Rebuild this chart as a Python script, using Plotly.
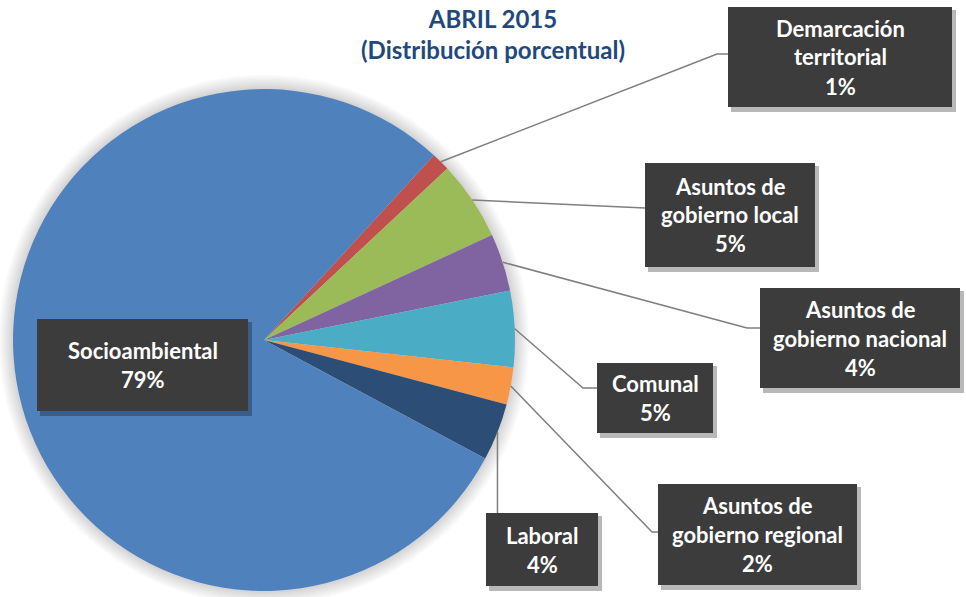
import math
import plotly.graph_objects as go

# ---------------- data ----------------
categories = ["Demarcación territorial", "Asuntos de gobierno local", "Asuntos de gobierno nacional",
              "Comunal", "Asuntos de gobierno regional", "Laboral", "Socioambiental"]
label_lines = [["Demarcación", "territorial"], ["Asuntos de", "gobierno local"], ["Asuntos de", "gobierno nacional"],
               ["Comunal"], ["Asuntos de", "gobierno regional"], ["Laboral"], ["Socioambiental"]]
values = [1.2, 5.1, 3.7, 4.9, 2.4, 3.7, 79.0]
colors = ["#C0504D", "#9BBB59", "#8064A2", "#4BACC6", "#F79646", "#2C4D75", "#4F81BD"]
title_lines = ["ABRIL 2015", "(Distribución porcentual)"]

# ---------------- layout constants (pixels) ----------------
W, H = 966, 597
CX, CY, R = 264, 340, 251
ROT = 42.6
LINE_GAP = 29

def px(x):
    return x / W

def py(y):
    return 1 - y / H

# label boxes (x0, y0, x1, y1) and leader path after slice point
boxes = [
    (728, 7, 952, 107),
    (645, 163, 815, 267),
    (760, 288, 960, 388),
    (597, 363, 713, 433),
    (658, 484, 857, 585),
    (486, 513, 598, 586),
    (37, 319, 248, 411),
]
leader = [
    [(717, 54), (728, 54)],
    [(645, 208)],
    [(747, 328), (760, 328)],
    [(583, 388), (597, 388)],
    [(652, 532), (658, 532)],
    ["vertical", 513],
    None,
]

total = sum(values)
fig = go.Figure()
fig.add_trace(go.Pie(
    labels=categories, values=values, sort=False, direction="clockwise",
    rotation=ROT, marker=dict(colors=colors, line=dict(width=0)),
    textinfo="none", hoverinfo="label+percent", showlegend=False,
    domain=dict(x=[px(CX - R), px(CX + R)], y=[py(CY + R), py(CY - R)]),
))

shapes = []
# soft glow around pie
for i in range(7, 0, -1):
    rr = R + i * 2
    shapes.append(dict(type="circle", xref="paper", yref="paper", layer="below",
                       x0=px(CX - rr), x1=px(CX + rr), y0=py(CY + rr), y1=py(CY - rr),
                       fillcolor="rgba(0,0,0,0.022)", line=dict(width=0)))

annotations = []
cum = 0
for i, v in enumerate(values):
    mid = math.radians(ROT + 360 * (cum + v / 2) / total)
    cum += v
    sx, sy = CX + R * math.sin(mid), CY - R * math.cos(mid)
    lp = leader[i]
    if lp is not None:
        if lp[0] == "vertical":
            pts = [(sx, sy), (sx, lp[1])]
        else:
            pts = [(sx, sy)] + lp
        path = "M " + " L ".join(f"{px(a):.5f},{py(b):.5f}" for a, b in pts)
        shapes.append(dict(type="path", xref="paper", yref="paper", layer="above", path=path,
                           line=dict(color="#7F7F7F", width=1.5)))
    x0, y0, x1, y1 = boxes[i]
    # shadow
    shapes.append(dict(type="rect", xref="paper", yref="paper", layer="above",
                       x0=px(x0 + 3), x1=px(x1 + 4), y0=py(y1 + 5), y1=py(y0 + 3),
                       fillcolor="rgba(0,0,0,0.28)", line=dict(width=0)))
    shapes.append(dict(type="rect", xref="paper", yref="paper", layer="above",
                       x0=px(x0), x1=px(x1), y0=py(y1), y1=py(y0),
                       fillcolor="#3C3C3C", line=dict(width=0)))
    pct = round(v / total * 100)
    lines = label_lines[i] + [f"{pct}%"]
    n = len(lines)
    cyb = (y0 + y1) / 2
    for k, t in enumerate(lines):
        yy = cyb + (k - (n - 1) / 2) * LINE_GAP
        annotations.append(dict(xref="paper", yref="paper", x=px((x0 + x1) / 2), y=py(yy),
                                xanchor="center", yanchor="middle", showarrow=False, align="center",
                                text=f"<b>{t}</b>",
                                font=dict(family="Lato", size=22, color="white")))

annotations.append(dict(xref="paper", yref="paper", x=px(493), y=py(34), xanchor="center", yanchor="middle",
                        showarrow=False, align="center",
                        text="<b>" + "<br>".join(title_lines) + "</b>",
                        font=dict(family="Lato", size=24, color="#1F497D")))

fig.update_layout(width=W, height=H, margin=dict(l=0, r=0, t=0, b=0),
                  paper_bgcolor="white", plot_bgcolor="white",
                  shapes=shapes, annotations=annotations)
fig.write_html("out.html", config={"displayModeBar": False},
               post_script="document.body.style.margin='0';document.body.style.overflow='hidden';")
